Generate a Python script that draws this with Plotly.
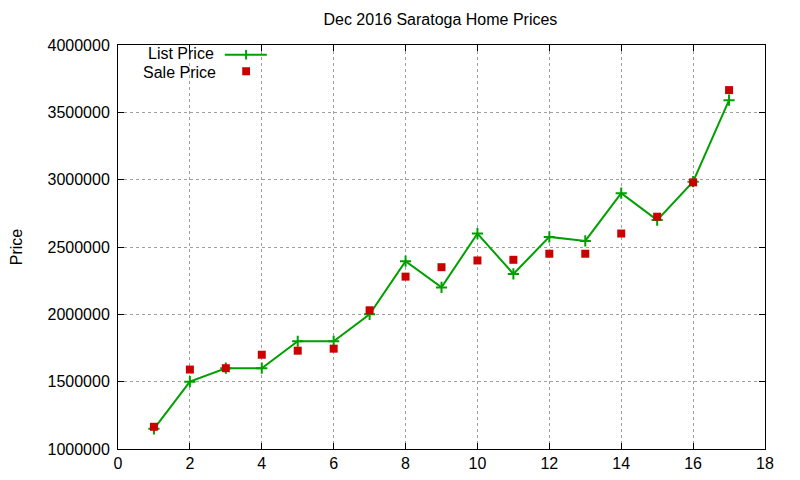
"""Dec 2016 Saratoga home prices: list vs sale, gnuplot look."""

import plotly.graph_objects as go

homes = list(range(1, 18))
list_price = [1150000, 1500000, 1600000, 1600000, 1800000, 1800000, 2000000, 2395000, 2200000,
              2600000, 2300000, 2575000, 2545000, 2900000, 2700000, 2985000, 3590000]
sale_price = [1165000, 1590000, 1600000, 1700000, 1730000, 1745000, 2030000, 2280000, 2350000,
              2400000, 2405000, 2450000, 2450000, 2600000, 2725000, 2980000, 3665000]

x_ticks = [0, 2, 4, 6, 8, 10, 12, 14, 16, 18]
y_ticks = [1000000, 1500000, 2000000, 2500000, 3000000, 3500000, 4000000]

GREEN = "#00a000"
RED = "#cc0000"
FONT = "Liberation Sans, Arial, sans-serif"

fig = go.Figure()
fig.add_trace(
    go.Scatter(
        x=homes,
        y=list_price,
        mode="lines+markers",
        name="List Price",
        line={"color": GREEN, "width": 2},
        marker={"symbol": "cross-thin", "size": 8, "line": {"color": GREEN, "width": 2}},
    )
)
fig.add_trace(
    go.Scatter(
        x=homes,
        y=sale_price,
        mode="markers",
        name="Sale Price",
        marker={"symbol": "square", "size": 8, "color": RED},
    )
)

axis_common = dict(
    showgrid=True,
    gridcolor="#a0a0a0",
    griddash="dot",
    gridwidth=1,
    showline=True,
    linecolor="black",
    linewidth=1,
    mirror="ticks",
    ticks="inside",
    ticklen=6,
    tickcolor="black",
    zeroline=False,
    automargin=False,
    tickfont={"family": FONT, "size": 16, "color": "black"},
)

fig.update_xaxes(range=[0, 18], tickvals=x_ticks, **axis_common)
fig.update_yaxes(
    range=[1000000, 4000000],
    tickvals=y_ticks,
    ticktext=[str(v) for v in y_ticks],
    ticklabelstandoff=4,
    title={"text": "Price", "font": {"family": FONT, "size": 16, "color": "black"}, "standoff": 28},
    **axis_common,
)

# gnuplot-style key: text on the left, sample on the right
key_font = {"family": FONT, "size": 16, "color": "black"}
fig.add_annotation(x=0.152, y=0.978, xref="paper", yref="paper", text="List Price", showarrow=False,
                   xanchor="right", yanchor="middle", height=15, font=key_font)
fig.add_annotation(x=0.154, y=0.933, xref="paper", yref="paper", text="Sale Price", showarrow=False,
                   xanchor="right", yanchor="middle", height=15, font=key_font)
fig.add_shape(type="line", xref="paper", yref="paper", x0=0.165, x1=0.230, y0=0.976, y1=0.976,
              line={"color": GREEN, "width": 2})
fig.add_shape(type="line", xref="paper", yref="paper", x0=0.198, x1=0.198, y0=0.964, y1=0.988,
              line={"color": GREEN, "width": 2})
fig.add_shape(type="rect", xref="paper", yref="paper", x0=0.192, x1=0.204, y0=0.925, y1=0.945,
              line={"width": 0}, fillcolor=RED)

fig.update_layout(
    width=792,
    height=472,
    title={"text": "Dec 2016 Saratoga Home Prices", "x": 0.546, "xanchor": "center",
           "y": 0.975, "yanchor": "middle",
           "font": {"family": FONT, "size": 16, "color": "black"}},
    showlegend=False,
    plot_bgcolor="white",
    paper_bgcolor="white",
    margin={"l": 110, "r": 35, "t": 37, "b": 31},
    font={"family": FONT},
)

fig.write_html("out.html")
